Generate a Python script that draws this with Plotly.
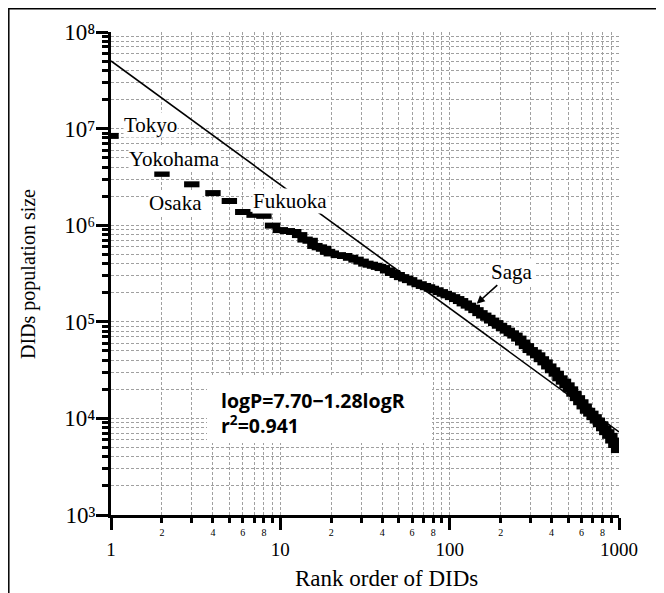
import math
import plotly.graph_objects as go

# ---- data ----
ranks = [1, 2, 3, 4, 5, 6, 7, 8, 9, 10, 11, 12, 13, 14, 15, 16, 17, 18, 19, 20,
         22, 24, 26, 28, 30, 32, 34, 36, 38, 40, 43, 46, 49, 52, 55, 58, 62, 66,
         70, 74, 78, 83, 88, 93, 98, 104, 110, 116, 122, 129, 136, 143, 151, 159,
         168, 177, 187, 197, 208, 219, 231, 243, 256, 270, 284, 299, 315, 331,
         348, 366, 385, 405, 426, 448, 470, 493, 517, 542, 568, 595, 623, 652,
         682, 713, 745, 778, 812, 847, 883, 920, 958, 995]
population = [8.4e6, 3.4e6, 2.65e6, 2.15e6, 1.78e6, 1.37e6, 1.28e6, 1.25e6, 9.9e5,
              8.9e5, 8.7e5, 8.5e5, 7.9e5, 7.1e5, 6.9e5, 6.1e5, 5.9e5, 5.7e5, 5.3e5,
              5.1e5, 4.9e5, 4.8e5, 4.6e5, 4.4e5, 4.2e5, 4.0e5, 3.9e5, 3.8e5, 3.7e5,
              3.6e5, 3.4e5, 3.2e5, 3.05e5, 2.9e5, 2.8e5, 2.7e5, 2.55e5, 2.45e5,
              2.35e5, 2.28e5, 2.2e5, 2.12e5, 2.03e5, 1.95e5, 1.88e5, 1.8e5, 1.72e5,
              1.64e5, 1.55e5, 1.47e5, 1.40e5, 1.32e5, 1.23e5, 1.16e5, 1.10e5,
              1.03e5, 9.7e4, 9.1e4, 8.6e4, 8.1e4, 7.6e4, 7.2e4, 6.7e4, 6.1e4,
              5.6e4, 5.1e4, 4.8e4, 4.5e4, 4.1e4, 3.8e4, 3.45e4, 3.15e4, 2.9e4,
              2.6e4, 2.4e4, 2.2e4, 2.0e4, 1.8e4, 1.62e4, 1.47e4, 1.33e4, 1.2e4,
              1.12e4, 1.03e4, 9.5e3, 8.7e3, 7.9e3, 7.2e3, 6.6e3, 5.9e3, 5.3e3, 4.7e3]

fit_intercept = 7.70
fit_slope = -1.28
fit_r2 = 0.941
fit_x = [1, 1000]
fit_y = [10 ** (fit_intercept + fit_slope * math.log10(r)) for r in fit_x]

major_x_vals = [1, 10, 100, 1000]
major_x_text = ["1", "10", "100", "1000"]
minor_x_vals = [2, 4, 6, 8, 20, 40, 60, 80, 200, 400, 600, 800]
minor_x_text = ["2", "4", "6", "8", "2", "4", "6", "8", "2", "4", "6", "8"]
major_y_vals = [1e3, 1e4, 1e5, 1e6, 1e7, 1e8]
major_y_text = ["10\u00b3", "10\u2074", "10\u2075", "10\u2076", "10\u2077", "10\u2078"]

x_title = "Rank order of DIDs"
y_title = "DIDs population size"

# labelled cities: (name, index into ranks, xshift, yshift, xanchor)
labels = [("Tokyo", 0, 12, 11, "left"), ("Yokohama", 1, 13, 15, "center"),
          ("Osaka", 2, -16, -19, "center"), ("Fukuoka", 7, 26, 15, "center")]
saga_index = ranks.index(136)

SERIF = "Liberation Serif"
GRID = "#a0a0a0"

# the page body adds an 8 px offset, so the figure is drawn 8 px smaller
W, H = 656, 585
L, T, PW, PH = 103, 24, 508, 483

fig = go.Figure()
fig.add_trace(go.Scatter(x=fit_x, y=fit_y, mode="lines",
                         line=dict(color="black", width=1.6), showlegend=False,
                         hoverinfo="skip"))
fig.add_trace(go.Scatter(x=ranks, y=population, mode="markers",
                         marker=dict(symbol="line-ew", size=11,
                                     line=dict(color="black", width=6)),
                         showlegend=False))
# invisible trace to activate xaxis2 (minor tick labels)
fig.add_trace(go.Scatter(x=[1, 1000], y=[1e3, 1e3], xaxis="x2", mode="markers",
                         marker=dict(opacity=0), showlegend=False,
                         hoverinfo="skip"))

axis_common = dict(showline=True, linecolor="black", linewidth=3,
                   ticks="outside", ticklen=12, tickwidth=3, tickcolor="black",
                   showgrid=True, gridcolor=GRID, gridwidth=1, griddash="3px,2px",
                   zeroline=False, automargin=False)

fig.update_layout(
    width=W, height=H,
    margin=dict(l=L, r=W - L - PW, t=T, b=H - T - PH),
    paper_bgcolor="white", plot_bgcolor="white",
    font=dict(family=SERIF, color="black"),
    xaxis=dict(type="log", range=[0, 3], tickvals=major_x_vals,
               ticktext=major_x_text, tickfont=dict(size=19, family=SERIF),
               ticklabelstandoff=3,
               minor=dict(ticks="outside", ticklen=5, tickwidth=2.5,
                          tickcolor="black", dtick="D1", showgrid=True,
                          gridcolor=GRID, gridwidth=1, griddash="3px,2px"),
               **axis_common),
    xaxis2=dict(type="log", range=[0, 3], overlaying="x", anchor="y",
                side="bottom", tickvals=minor_x_vals, ticktext=minor_x_text,
                tickfont=dict(size=10, family=SERIF), ticks="", showline=False,
                showgrid=False, zeroline=False, ticklabelstandoff=10,
                automargin=False),
    yaxis=dict(type="log", range=[3, 8], tickvals=major_y_vals,
               ticktext=major_y_text, tickfont=dict(size=23, family=SERIF),
               ticklabelstandoff=-4,
               minor=dict(ticks="outside", ticklen=6, tickwidth=2.5,
                          tickcolor="black", dtick="D1", showgrid=True,
                          gridcolor=GRID, gridwidth=1, griddash="3px,2px"),
               **axis_common),
)

# axis titles
fig.add_annotation(xref="paper", yref="paper", x=(386 - 111) / PW, y=-63 / PH,
                   text=x_title, showarrow=False, xanchor="center", yanchor="middle",
                   font=dict(family=SERIF, size=23, color="black"))
fig.add_annotation(xref="paper", yref="paper", x=-83 / PW, y=(515 - 274) / PH,
                   text=y_title, showarrow=False, textangle=-90,
                   xanchor="center", yanchor="middle",
                   font=dict(family=SERIF, size=20, color="black"))

# white box behind the regression equation (covers the grid)
fig.add_shape(type="rect", xref="paper", yref="paper",
              x0=0.189, x1=0.632, y0=0.149, y1=0.286,
              fillcolor="white", line=dict(width=0), layer="above")
fig.add_annotation(xref="paper", yref="paper", x=0.213, y=0.212,
                   xanchor="left", yanchor="middle", align="left", showarrow=False,
                   text=f"<b>logP={fit_intercept:.2f}\u2212{abs(fit_slope):.2f}logR</b><br>"
                        f"<b>r<sup>2</sup>={fit_r2:.3f}</b>",
                   font=dict(family="Open Sans", size=19.5, color="black"))

for name, idx, dx, dy, anchor in labels:
    fig.add_annotation(x=math.log10(ranks[idx]), y=math.log10(population[idx]),
                       xref="x", yref="y", text=name, showarrow=False,
                       xanchor=anchor, yanchor="middle", xshift=dx, yshift=dy,
                       bgcolor="white", borderpad=0,
                       font=dict(family=SERIF, size=21, color="black"))

fig.add_annotation(x=math.log10(ranks[saga_index]),
                   y=math.log10(population[saga_index]),
                   xref="x", yref="y", text="Saga", showarrow=True,
                   ax=40, ay=-36, arrowhead=2, arrowsize=1, arrowwidth=1.6,
                   arrowcolor="black", standoff=6, bgcolor="white",
                   font=dict(family=SERIF, size=21, color="black"))

# outer frame
fig.add_shape(type="rect", xref="paper", yref="paper",
              x0=(0.8 - L) / PW, x1=1.3, y0=-0.4, y1=1 + (T - 0.8) / PH,
              line=dict(color="black", width=1.5), fillcolor="rgba(0,0,0,0)",
              layer="above")

fig.write_html("out.html")
